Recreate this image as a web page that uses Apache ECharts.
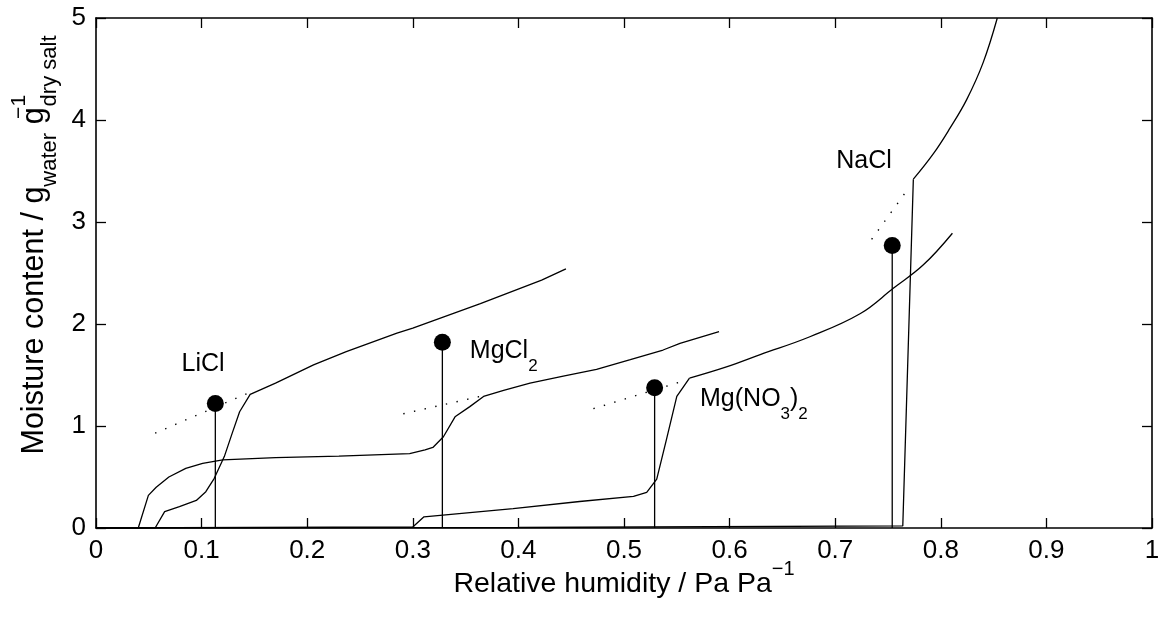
<!DOCTYPE html>
<html>
<head>
<meta charset="utf-8">
<script src="https://cdn.jsdelivr.net/npm/echarts@6/dist/echarts.min.js"></script>
<style>
html, body { margin: 0; padding: 0; background: #fff; }
#main { width: 1165px; height: 619px; }
</style>
</head>
<body>
<div id="main"></div>
<script>
// sorption curves, [relative humidity, moisture content]
var liclCurve = [[0, 0], [0.056, 0], [0.065, 0.16], [0.079, 0.21], [0.095, 0.27], [0.104, 0.356], [0.112, 0.487],
  [0.1215, 0.70], [0.129, 0.93], [0.136, 1.14], [0.146, 1.31], [0.170, 1.42], [0.206, 1.60], [0.237, 1.73],
  [0.285, 1.91], [0.300, 1.96], [0.364, 2.20], [0.422, 2.43], [0.445, 2.54]];
var mgcl2Curve = [[0, 0], [0.040, 0], [0.0496, 0.32], [0.057, 0.40], [0.069, 0.50], [0.085, 0.585], [0.101, 0.634],
  [0.120, 0.667], [0.170, 0.69], [0.230, 0.705], [0.297, 0.73], [0.3116, 0.765], [0.319, 0.79], [0.329, 0.895],
  [0.340, 1.09], [0.354, 1.19], [0.367, 1.29], [0.386, 1.35], [0.411, 1.42], [0.4425, 1.49], [0.474, 1.556],
  [0.506, 1.65], [0.537, 1.745], [0.553, 1.81], [0.590, 1.925]];
var mgno3Lower = [[0, 0], [0.300, 0.01], [0.3106, 0.11], [0.395, 0.19], [0.458, 0.26], [0.509, 0.31], [0.5215, 0.35],
  [0.531, 0.48], [0.540, 0.86], [0.550, 1.29], [0.562, 1.47]];
var mgno3Upper = [[0.562, 1.47], [0.597, 1.58], [0.629, 1.70], [0.676, 1.875], [0.7235, 2.10], [0.755, 2.35],
  [0.7835, 2.58], [0.811, 2.89]];
var naclLower = [[0, 0], [0.400, 0.005], [0.764, 0.02], [0.774, 3.42]];
var naclUpper = [[0.774, 3.42], [0.793, 3.67], [0.8087, 3.92], [0.8245, 4.20], [0.840, 4.56], [0.8535, 5.0]];

// dotted extensions of the solution branches
var liclExt = [[0.056, 0.93], [0.148, 1.34]];
var mgcl2Ext = [[0.291, 1.12], [0.368, 1.30]];
var mgno3Ext = [[0.471, 1.17], [0.559, 1.45]];
var naclExt = [[0.7345, 2.83], [0.768, 3.31]];

// deliquescence points (stems with dots)
var drhX = [0.113, 0.328, 0.529, 0.754];
var drhY = [1.22, 1.82, 1.375, 2.77];

// salt names and where they are written
var saltNames = ['LiCl', 'MgCl{s|2}', 'Mg(NO{s|3}){s|2}', 'NaCl'];
var saltLabelX = [0.081, 0.354, 0.572, 0.701];
var saltLabelY = [1.61, 1.735, 1.265, 3.6];

var FONT = '"Liberation Sans", Arial, Helvetica, sans-serif';
var black = '#000';

var myChart = echarts.init(document.getElementById('main'));

function curve(data, smooth) {
  return {
    type: 'line',
    data: data,
    smooth: smooth || false,
    showSymbol: false,
    silent: true,
    lineStyle: { color: black, width: 1.3 }
  };
}

function dotted(data) {
  return {
    type: 'line',
    data: data,
    showSymbol: false,
    silent: true,
    lineStyle: { color: black, width: 1.4, type: [1.4, 9.5] }
  };
}

var series = [
  curve(liclCurve),
  curve(mgcl2Curve),
  curve(mgno3Lower),
  curve(mgno3Upper, 0.4),
  curve(naclLower),
  curve(naclUpper, 0.4),
  dotted(liclExt),
  dotted(mgcl2Ext),
  dotted(mgno3Ext),
  dotted(naclExt)
];

drhX.forEach(function (x, i) {
  series.push(curve([[x, 0], [x, drhY[i]]]));
});

series.push({
  type: 'scatter',
  data: drhX.map(function (x, i) { return [x, drhY[i]]; }),
  symbol: 'circle',
  symbolSize: 17,
  itemStyle: { color: black, opacity: 1 },
  silent: true,
  z: 5
});

series.push({
  type: 'scatter',
  data: saltNames.map(function (n, i) { return { name: n, value: [saltLabelX[i], saltLabelY[i]] }; }),
  symbolSize: 0,
  silent: true,
  itemStyle: { opacity: 1 },
  label: {
    show: true,
    position: [0, 0],
    align: 'left',
    verticalAlign: 'middle',
    formatter: function (p) { return p.name; },
    fontFamily: FONT,
    fontSize: 25,
    color: black,
    opacity: 1,
    lineHeight: 48,
    rich: {
      s: { fontFamily: FONT, fontSize: 17, color: black, lineHeight: 18, verticalAlign: 'bottom' }
    }
  }
});

var boxLine = { onZero: false, lineStyle: { color: black, width: 1.6 } };
var boxTick = { inside: true, length: 10, lineStyle: { color: black, width: 1.3 } };

var option = {
  animation: false,
  backgroundColor: '#fff',
  grid: { left: 96, right: 13, top: 18, bottom: 91, outerBoundsMode: 'none', containLabel: false },
  xAxis: [{
    type: 'value',
    min: 0,
    max: 1,
    interval: 0.1,
    position: 'bottom',
    name: 'Relative humidity / Pa Pa{sup|\u22121}',
    nameLocation: 'middle',
    nameMoveOverlap: false,
    nameGap: 31,
    nameTextStyle: {
      fontFamily: FONT, fontSize: 28.5, color: black, lineHeight: 50,
      rich: {
        sup: { fontFamily: FONT, fontSize: 20, color: black, lineHeight: 28, verticalAlign: 'top' }
      }
    },
    axisLine: boxLine,
    axisTick: boxTick,
    axisLabel: { fontFamily: FONT, fontSize: 26, color: black, margin: 10 },
    splitLine: { show: false }
  }, {
    type: 'value',
    min: 0,
    max: 1,
    interval: 0.1,
    position: 'top',
    axisLine: boxLine,
    axisTick: boxTick,
    axisLabel: { show: false },
    splitLine: { show: false }
  }],
  yAxis: [{
    type: 'value',
    min: 0,
    max: 5,
    interval: 1,
    position: 'left',
    name: 'Moisture content / g{sub|water} g{sup|\u22121}{sub|dry salt}',
    nameLocation: 'middle',
    nameRotate: 90,
    nameMoveOverlap: false,
    nameGap: 35,
    nameTextStyle: {
      fontFamily: FONT, fontSize: 30.5, color: black, lineHeight: 52,
      padding: [0, 0, 0, 56],
      rich: {
        sup: { fontFamily: FONT, fontSize: 21, color: black, lineHeight: 25, verticalAlign: 'top', width: 1 },
        sub: { fontFamily: FONT, fontSize: 22, color: black, lineHeight: 22, verticalAlign: 'bottom' }
      }
    },
    axisLine: boxLine,
    axisTick: boxTick,
    axisLabel: { fontFamily: FONT, fontSize: 26, color: black, margin: 10 },
    splitLine: { show: false }
  }, {
    type: 'value',
    min: 0,
    max: 5,
    interval: 1,
    position: 'right',
    axisLine: boxLine,
    axisTick: boxTick,
    axisLabel: { show: false },
    splitLine: { show: false }
  }],
  series: series
};

myChart.setOption(option);
</script>
</body>
</html>
